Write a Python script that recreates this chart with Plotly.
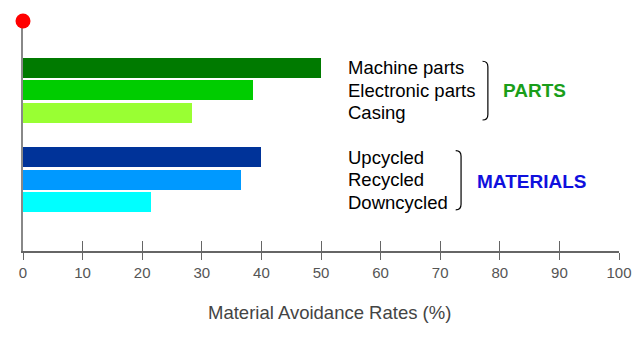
import plotly.graph_objects as go

# ---- data ----
parts_labels = ["Machine parts", "Electronic parts", "Casing"]
parts_values = [50.0, 38.6, 28.4]
materials_labels = ["Upcycled", "Recycled", "Downcycled"]
materials_values = [40.0, 36.6, 21.5]
x_ticks = [0, 10, 20, 30, 40, 50, 60, 70, 80, 90, 100]
title_text = "One way  products/No avoidance"
x_title = "Material Avoidance Rates (%)"

# ---- styles ----
parts_colors = ["#007a00", "#00cc00", "#99ff33"]
materials_colors = ["#003399", "#0099ff", "#00ffff"]
FONT = "Arial, 'Liberation Sans', sans-serif"

parts_pos = list(range(len(parts_labels)))
materials_pos = [i + len(parts_labels) + 1 for i in range(len(materials_labels))]

y_top = -2.1
y_bottom = 8.19

fig = go.Figure()
fig.add_trace(go.Bar(
    x=parts_values + materials_values,
    y=parts_pos + materials_pos,
    orientation="h",
    width=0.9,
    marker=dict(color=parts_colors + materials_colors, line=dict(width=0)),
    showlegend=False, hoverinfo="skip",
))
# red marker at origin top
fig.add_trace(go.Scatter(
    x=[0], y=[y_top], mode="markers",
    marker=dict(color="#ff0000", size=15),
    cliponaxis=False, showlegend=False, hoverinfo="skip",
))
# invisible trace for overlay axis (upper tick halves)
fig.add_trace(go.Scatter(x=[0], y=[y_bottom], xaxis="x2", mode="markers",
                         marker=dict(opacity=0), showlegend=False, hoverinfo="skip"))

fig.update_layout(
    width=632, height=338,
    margin=dict(l=23, r=13, t=21, b=87, autoexpand=False),
    paper_bgcolor="white", plot_bgcolor="white",
    font=dict(family=FONT),
    bargap=0,
    xaxis=dict(
        range=[0, 100], tickvals=x_ticks, ticktext=[str(v) for v in x_ticks],
        ticks="outside", ticklen=7, tickwidth=1.3, tickcolor="#666666",
        showline=True, linecolor="#666666", linewidth=1.5,
        showgrid=False, zeroline=False, automargin=False,
        tickfont=dict(size=15, color="#555555", family=FONT),
        fixedrange=True,
    ),
    xaxis2=dict(
        range=[0, 100], overlaying="x", anchor="y", side="bottom",
        tickvals=x_ticks, ticks="inside", ticklen=10, tickwidth=1.3, tickcolor="#666666",
        showticklabels=False, showline=False, showgrid=False, zeroline=False,
        automargin=False,
    ),
    yaxis=dict(
        range=[y_bottom, y_top], showticklabels=False, ticks="",
        showline=True, linecolor="#888888", linewidth=1.5, layer="below traces",
        showgrid=False, zeroline=False, fixedrange=True, automargin=False,
    ),
)

fig.add_annotation(x=0.515, xref="paper", y=-0.268, yref="paper", text=x_title,
                   showarrow=False, xanchor="center", yanchor="middle",
                   font=dict(size=18.5, color="#444444", family=FONT))

label_x = 54.2
for lab, p in zip(parts_labels + materials_labels, parts_pos + materials_pos):
    fig.add_annotation(x=label_x, y=p, text=lab, showarrow=False, xanchor="left",
                       yanchor="middle", font=dict(size=18.5, color="#000000", family=FONT))

fig.add_annotation(x=label_x, y=-2.2, text=title_text, showarrow=False, xanchor="left",
                   yanchor="middle", font=dict(size=18.5, color="#ff0000", family=FONT))

fig.add_annotation(x=80.2, y=parts_pos[1], text="<b>PARTS</b>", showarrow=False,
                   xanchor="left", yanchor="middle",
                   font=dict(size=19, color="#1a9e1a", family=FONT))
fig.add_annotation(x=75.8, y=materials_pos[1] + 0.1, text="<b>MATERIALS</b>", showarrow=False,
                   xanchor="left", yanchor="middle",
                   font=dict(size=19, color="#1010dd", family=FONT))

def bracket(x, y0, y1):
    s = 0.9
    c = 0.25
    return (f"M {x - s},{y0} Q {x},{y0} {x},{y0 + c} L {x},{y1 - c} "
            f"Q {x},{y1} {x - s},{y1}")

fig.add_shape(type="path", xref="x", yref="y",
              path=bracket(78.0, parts_pos[0] - 0.3, parts_pos[-1] + 0.33),
              line=dict(color="#000000", width=1.2))
fig.add_shape(type="path", xref="x", yref="y",
              path=bracket(73.5, materials_pos[0] - 0.3, materials_pos[-1] + 0.35),
              line=dict(color="#000000", width=1.2))

fig.write_html("out.html")
